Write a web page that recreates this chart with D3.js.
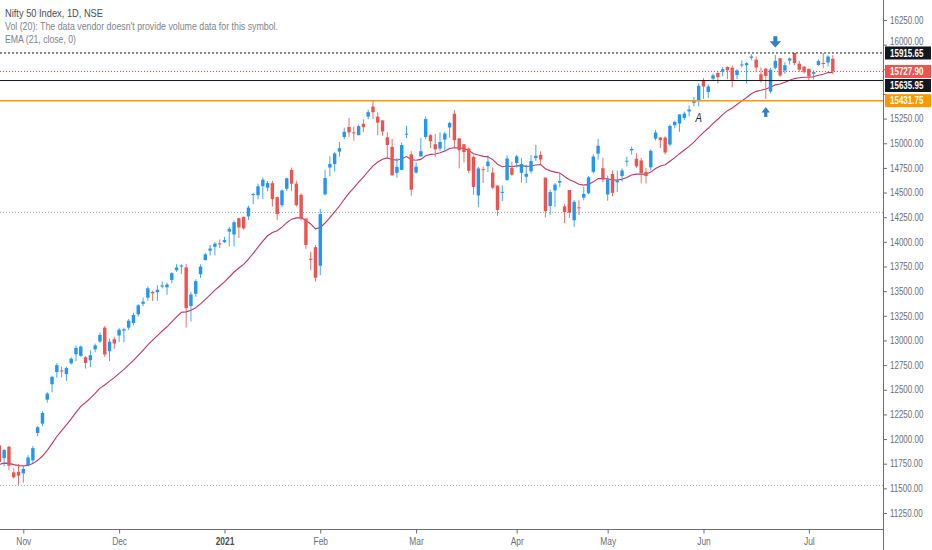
<!DOCTYPE html>
<html>
<head>
<meta charset="utf-8">
<script src="https://cdn.jsdelivr.net/npm/d3@7"></script>
<style>
  body { margin: 0; background: #ffffff; }
  svg { display: block; font-family: "Liberation Sans", Arial, sans-serif; }
</style>
</head>
<body>
<div id="chart"></div>
<script>
// Nifty 50 daily candles, 26 Oct 2020 .. 8 Jul 2021
var openData = [
  11937,11807,11922,11662,11668,11652,11734,11784,12062,12156,
  12399,12556,12680,12696,12659,12768,12860,12844,12830,12800,
  12910,12990,13130,12890,13012,13050,13100,13130,13177,13265,
  13372,13434,13491,13490,13547,13540,13614,13713,13750,13741,
  13350,13473,13672,13815,13910,13950,13985,13997,14104,14075,
  14240,14253,14258,14474,14473,14565,14550,14595,14454,14371,
  14538,14730,14590,14477,14237,13830,13946,13758,14482,14754,
  14789,14915,15064,15165,15110,15082,15197,15270,15372,15270,
  15232,15060,14963,14700,14730,15095,14888,14703,14866,15064,
  15082,14990,14946,15037,15160,15300,15049,14990,14946,14861,
  14471,14737,14768,14702,14570,14506,14628,14750,14800,14700,
  14660,14716,14850,14882,14651,14364,14522,14600,14360,14526,
  14219,14350,14449,14493,14710,14895,14747,14481,14688,14604,
  14668,14816,14928,14843,14825,14708,14756,15047,15058,15058,
  14987,15183,15200,15257,15323,15410,15437,15640,15520,15655,
  15712,15725,15773,15766,15692,15790,15791,15867,15847,15700,
  15756,15525,15765,15862,15737,15839,15915,15807,15776,15755,
  15705,15794,15814,15819,15856
];
var highData = [
  11942,11899,11929,11704,11748,11726,11836,11929,12131,12281,
  12475,12643,12769,12735,12735,12829,12950,12948,12842,12900,
  12968,13080,13145,13018,13036,13128,13128,13216,13280,13367,
  13435,13548,13504,13560,13597,13587,13692,13773,13772,13777,
  13492,13619,13771,13886,13968,13997,14024,14049,14148,14216,
  14244,14256,14367,14498,14590,14653,14617,14618,14460,14531,
  14652,14753,14619,14491,14237,13899,13967,14336,14731,14868,
  14913,15015,15159,15257,15168,15188,15243,15340,15431.75,15314,
  15232,15112,15045,14850,15009,15176,14919,14806,15052,15273,
  15093,15093,15111,15117,15218,15336,15051,14990,14956,14875,
  14761,14764,14878,14752,14575,14572,14877,14813,14884,14849,
  14779,14880,14984,14919,14652,14529,14597,14697,14382,14527,
  14424,14423,14557,14667,14890,15044,14855,14673,14723,14723,
  14743,14863,14967,14900,14852,14750,14938,15134,15063,15070,
  15190,15228,15293,15320,15384,15469,15606,15661,15597,15705,
  15733,15773,15778,15789,15752,15841,15823,15901,15880,15769,
  15763,15765,15895,15862,15821,15870,15915.65,15835,15784,15755,
  15739,15849,15915,15893,15893
];
var lowData = [
  11712,11723,11684,11600,11535,11557,11723,11757,12028,12132,
  12368,12475,12623,12625,12590,12755,12790,12834,12715,12730,
  12880,12975,12833,12790,12915,12985,12983,13107,13152,13241,
  13347,13403,13400,13402,13528,13464,13580,13696,13675,13131,
  13192,13443,13634,13811,13860,13864,13936,13991,13954,13954,
  14039,14123,14222,14383,14432,14435,14513,14357,14222,14351,
  14516,14517,14357,14218,13929,13713,13597,13661,14469,14664,
  14714,14864,15041,15065,15026,15081,15113,15244,15243,15081,
  15075,14857,14667,14651,14727,15052,14468,14693,14865,15041,
  14953,14863,14919,14918,15056,14954,14745,14806,14696,14478,
  14350,14597,14707,14535,14264,14414,14617,14670,14753,14600,
  14597,14693,14822,14785,14248,14273,14353,14555,14191,14242,
  14151,14273,14421,14484,14694,14834,14601,14417,14462,14506,
  14611,14765,14885,14750,14592,14591,14725,15029,14952,14885,
  14969,15152,15116,15236,15272,15375,15374,15451,15459,15630,
  15606,15678,15650,15566,15649,15770,15606,15842,15721,15616,
  15450,15505,15750,15673,15702,15798,15792,15725,15708,15635,
  15647,15785,15762,15779,15702
];
var closeData = [
  11767,11889,11730,11612,11630,11697,11813,11908,12120,12264,
  12461,12631,12749,12691,12720,12815,12925,12938,12772,12850,
  12950,13055,12858,12987,12969,13109,13113,13200,13258,13356,
  13393,13529,13478,13514,13558,13567,13682,13740,13761,13328,
  13466,13601,13749,13873,13932,13982,13975,14018,14132,14199,
  14146,14137,14347,14485,14563,14630,14596,14433,14281,14521,
  14644,14590,14372,14239,13968,13818,13635,14281,14647,14790,
  14896,14950,15116,15110,15100,15173,15163,15315,15314,15209,
  15119,14982,14676,14760,14982,15097,14529,14762,14919,15245,
  15020,14938,15013,15098,15205,15031,14929,14910,14721,14557,
  14744,14736,14814,14549,14324,14507,14845,14680,14867,14790,
  14690,14819,14873,14835,14311,14505,14581,14617,14301,14296,
  14406,14341,14485,14653,14865,14975,14631,14634,14497,14618,
  14724,14823,14942,14766,14697,14668,14923,15109,15031,14906,
  15175,15217,15292,15301,15342,15437,15583,15575,15576,15690,
  15670,15751,15740,15635,15738,15799,15812,15880,15768,15640,
  15683,15746,15835,15687,15790,15860,15814,15748,15721,15680,
  15722,15834,15810,15879,15727.9
];

// Time axis: label and the bar where each month starts
var monthLabels = ["Nov", "Dec", "2021", "Feb", "Mar", "Apr", "May", "Jun", "Jul"];
var monthBars = [5, 25, 47, 67, 87, 108, 127, 147, 169];

// Price axis ticks
var priceTicks = [11250, 11500, 11750, 12000, 12250, 12500, 12750, 13000, 13250, 13500,
  13750, 14000, 14250, 14500, 14750, 15000, 15250, 15500, 15750, 16000, 16250];

// Drawn horizontal levels (with axis labels) and plain dotted guides
var levelPrices = [15915.65, 15635.95, 15431.75];
var guidePrices = [14300, 11535];

// EMA (21, close): value just before the first visible bar
var emaLength = 21;
var emaStart = 11740;

// Arrow marks and the "A" note
var markerBars = [162, 160];
var markerPrices = [16030, 15317];
var markerDirs = ["down", "up"];
var noteBar = 146;
var notePrice = 15256;
var noteText = "A";

// Layout
var width = 932;
var height = 550;
var plotRight = 883;
var plotBottom = 529;
var barStep = 4.79;
var firstBarX = -0.65;
var squash = 0.8; // the screenshot is a bit narrower than it is tall

var upColor = "#2196f3";
var downColor = "#ef5350";
var textGray = "#6a6d78";

var svg = d3
  .select("#chart")
  .append("svg")
  .attr("width", width)
  .attr("height", height);

var n = closeData.length;

var xScale = d3
  .scaleLinear()
  .domain([0, n - 1])
  .range([firstBarX, firstBarX + barStep * (n - 1)]);

var yScale = d3.scaleLinear().domain([11250, 16250]).range([513, 20]);

svg
  .append("clipPath")
  .attr("id", "plot-clip")
  .append("rect")
  .attr("width", plotRight)
  .attr("height", plotBottom);

var plot = svg.append("g").attr("clip-path", "url(#plot-clip)");

// Dotted guide lines
plot
  .selectAll("line.guide")
  .data(guidePrices)
  .enter()
  .append("line")
  .attr("class", "guide")
  .attr("x1", 0)
  .attr("x2", plotRight)
  .attr("y1", function (d) { return Math.round(yScale(d)) + 0.5; })
  .attr("y2", function (d) { return Math.round(yScale(d)) + 0.5; })
  .attr("stroke", "#a3a6af")
  .attr("stroke-dasharray", "1,2");

// EMA line
var k = 2 / (emaLength + 1);
var emaValues = [];
var prev = emaStart;
closeData.forEach(function (c) {
  prev = prev + k * (c - prev);
  emaValues.push(prev);
});

plot
  .append("path")
  .datum(emaValues)
  .attr("fill", "none")
  .attr("stroke", "#c4365e")
  .attr("stroke-width", 1.1)
  .attr(
    "d",
    d3
      .line()
      .x(function (d, i) { return xScale(i); })
      .y(function (d) { return yScale(d); })
  );

// Candles
var bars = d3.range(n).map(function (i) {
  return { i: i, o: openData[i], h: highData[i], l: lowData[i], c: closeData[i] };
});

function barColor(d) {
  return d.c >= d.o ? upColor : downColor;
}

plot
  .selectAll("line.wick")
  .data(bars)
  .enter()
  .append("line")
  .attr("class", "wick")
  .attr("x1", function (d) { return xScale(d.i); })
  .attr("x2", function (d) { return xScale(d.i); })
  .attr("y1", function (d) { return yScale(d.h); })
  .attr("y2", function (d) { return yScale(d.l); })
  .attr("stroke", barColor)
  .attr("stroke-opacity", 0.85)
  .attr("stroke-width", 1);

plot
  .selectAll("rect.body")
  .data(bars)
  .enter()
  .append("rect")
  .attr("class", "body")
  .attr("x", function (d) { return xScale(d.i) - 1.7; })
  .attr("width", 3.4)
  .attr("y", function (d) { return yScale(Math.max(d.o, d.c)); })
  .attr("height", function (d) {
    return Math.max(1, Math.abs(yScale(d.o) - yScale(d.c)));
  })
  .attr("fill", barColor);

// Horizontal levels: dotted top, solid black, solid orange
var levelColors = ["#131722", "#131722", "#ff9800"];
var levelDash = ["2,2", null, null];
var levelWidth = [1, 1, 1.5];

plot
  .selectAll("line.level")
  .data(levelPrices)
  .enter()
  .append("line")
  .attr("class", "level")
  .attr("x1", 0)
  .attr("x2", plotRight)
  .attr("y1", function (d) { return yScale(d); })
  .attr("y2", function (d) { return yScale(d); })
  .attr("stroke", function (d, i) { return levelColors[i]; })
  .attr("stroke-dasharray", function (d, i) { return levelDash[i]; })
  .attr("stroke-width", function (d, i) { return levelWidth[i]; });

// Last price line
var lastPrice = closeData[n - 1];
plot
  .append("line")
  .attr("x1", 0)
  .attr("x2", plotRight)
  .attr("y1", yScale(lastPrice))
  .attr("y2", yScale(lastPrice))
  .attr("stroke", downColor)
  .attr("stroke-width", 1)
  .attr("stroke-dasharray", "1,2");

// Arrow marks
plot
  .selectAll("path.marker")
  .data(markerBars)
  .enter()
  .append("path")
  .attr("class", "marker")
  .attr("fill", "#2f7fd3")
  .attr("d", function (d, i) {
    var cx = xScale(d);
    var cy = yScale(markerPrices[i]);
    if (markerDirs[i] === "down") {
      return "M" + (cx - 2) + "," + (cy - 5.5) +
        "h4v5h3.8l-5.8,6.2l-5.8,-6.2h3.8z";
    }
    return "M" + (cx - 1.6) + "," + (cy + 5) +
      "h3.2v-4.5h2.6l-4.2,-5.5l-4.2,5.5h2.6z";
  });

plot
  .append("text")
  .attr("transform", "translate(" + xScale(noteBar) + "," + (yScale(notePrice) + 4) + ") scale(" + squash + ",1)")
  .attr("text-anchor", "middle")
  .style("font-size", "12px")
  .style("font-style", "italic")
  .attr("fill", "#131722")
  .text(noteText);

// Axis lines
svg
  .append("line")
  .attr("x1", 0)
  .attr("x2", plotRight)
  .attr("y1", plotBottom + 0.5)
  .attr("y2", plotBottom + 0.5)
  .attr("stroke", "#6b6e78");

svg
  .append("line")
  .attr("x1", plotRight + 0.5)
  .attr("x2", plotRight + 0.5)
  .attr("y1", 0)
  .attr("y2", height)
  .attr("stroke", "#6b6e78");

// Price label boxes on the right axis
var boxes = [
  { price: levelPrices[0], fill: "#131722" },
  { price: lastPrice, fill: downColor },
  { price: levelPrices[1], fill: "#131722" },
  { price: levelPrices[2], fill: "#ff9800" }
];
boxes.sort(function (a, b) { return b.price - a.price; });
var lastY = -100;
boxes.forEach(function (b) {
  b.y = Math.max(yScale(b.price), lastY + 14);
  lastY = b.y;
});

// Tick labels that sit on a box are hidden, near ones are pushed clear of it
function tickShift(d) {
  var y = yScale(d);
  var shift = 0;
  boxes.forEach(function (b) {
    var gap = y - b.y;
    if (Math.abs(gap) >= 8 && Math.abs(gap) < 12) {
      shift = (gap < 0 ? -12 : 12) - gap;
    }
  });
  return shift;
}

// Price axis
var yAxis = svg
  .append("g")
  .attr("transform", "translate(" + plotRight + ",0)")
  .call(
    d3
      .axisRight(yScale)
      .tickValues(priceTicks)
      .tickSize(4)
      .tickPadding(3)
      .tickFormat(d3.format(".2f"))
  );
yAxis.select(".domain").remove();
yAxis.selectAll("line").attr("stroke", "#6b6e78");
yAxis
  .selectAll("text")
  .attr("x", 7 / squash)
  .attr("transform", function (d) { return "translate(0," + tickShift(d) + ") scale(" + squash + ",1)"; })
  .attr("fill", textGray)
  .style("font-size", "10px")
  .style("font-family", "'Liberation Sans', Arial, sans-serif")
  .style("display", function (d) {
    var y = yScale(d);
    var hit = boxes.some(function (b) { return Math.abs(b.y - y) < 8; });
    return hit ? "none" : null;
  });

var boxG = svg
  .selectAll("g.box")
  .data(boxes)
  .enter()
  .append("g")
  .attr("class", "box")
  .attr("transform", function (d) { return "translate(" + (plotRight + 2) + "," + d.y + ")"; });

boxG
  .append("rect")
  .attr("x", 0)
  .attr("y", -6.5)
  .attr("width", 46)
  .attr("height", 13)
  .attr("fill", function (d) { return d.fill; });

boxG
  .append("text")
  .attr("transform", "translate(5,3.6) scale(" + squash + ",1)")
  .attr("fill", "#ffffff")
  .style("font-size", "10px")
  .style("font-weight", "bold")
  .text(function (d) { return d.price.toFixed(2); });

// Time axis
var xAxis = svg
  .append("g")
  .attr("transform", "translate(0," + (plotBottom + 0.5) + ")")
  .call(
    d3
      .axisBottom(xScale)
      .tickValues(monthBars)
      .tickSize(4)
      .tickPadding(4)
      .tickFormat(function (d, i) { return monthLabels[i]; })
  );
xAxis.select(".domain").remove();
xAxis.selectAll("line").attr("stroke", "#6b6e78");
xAxis
  .selectAll("text")
  .attr("transform", "scale(" + squash + ",1)")
  .attr("fill", function (d, i) { return monthLabels[i] === "2021" ? "#4a4d56" : textGray; })
  .style("font-size", "10.5px")
  .style("font-weight", function (d, i) { return monthLabels[i] === "2021" ? "bold" : null; })
  .style("font-family", "'Liberation Sans', Arial, sans-serif");

// Legend lines, top left
var legendLines = [
  "Nifty 50 Index, 1D, NSE",
  "Vol (20): The data vendor doesn't provide volume data for this symbol.",
  "EMA (21, close, 0)"
];
var legendWidths = [98, 273, 71];

svg
  .selectAll("text.legend")
  .data(legendLines)
  .enter()
  .append("text")
  .attr("class", "legend")
  .attr("x", 5)
  .attr("y", function (d, i) { return 17 + i * 12.8; })
  .attr("textLength", function (d, i) { return legendWidths[i]; })
  .attr("lengthAdjust", "spacingAndGlyphs")
  .attr("fill", function (d, i) { return i === 0 ? "#4a4d56" : "#80838d"; })
  .style("font-size", "10.5px")
  .text(function (d) { return d; });
</script>
</body>
</html>
